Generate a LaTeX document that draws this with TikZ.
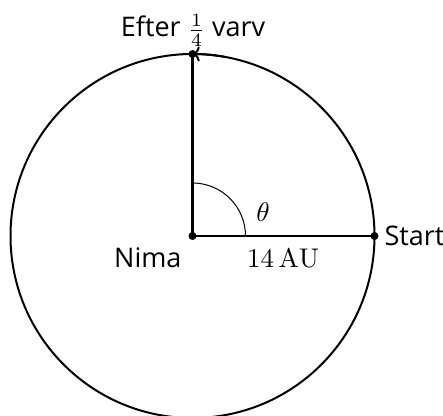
\documentclass[tikz,border=0pt]{standalone}
\usepackage{fontspec}
\newfontfamily\sansfam{Open Sans}
\usetikzlibrary{arrows.meta}
\begin{document}
\begin{tikzpicture}[x=1pt,y=1pt,
  dot/.style={circle,fill,inner sep=0pt,minimum size=8pt},
  lbl/.style={font=\sansfam\fontsize{10}{12}\selectfont,inner sep=0pt,scale=2.7,transform shape},
  mth/.style={font=\fontsize{10}{12}\selectfont,inner sep=0pt,scale=2.7,transform shape},
  rim/.style={line width=2pt},
  radius line/.style={line width=2.5pt},
  anglearc/.style={line width=1pt}]
\useasboundingbox (0,0) rectangle (443,415);
\coordinate (C) at (192.5,179);
\coordinate (S) at (374.5,179);
\coordinate (T) at (192.5,361);
\coordinate (A) at (245.5,179);
\draw[rim] (C) circle[radius=182];
\draw[radius line] (C) -- (S);
\draw[radius line] (C) -- (T);
\draw[anglearc] (A) arc[start angle=0,end angle=90,radius=53];
\draw[rim,-{To[scale=1.2]}] ([shift={(C)}]80:182) arc[start angle=80,end angle=90,radius=182];
\node[dot] (c) at (C) {};
\node[dot] (s) at (S) {};
\node[dot] (t) at (T) {};
\node[lbl,anchor=base east] (nima) at (182,148) {Nima};
\node[lbl,anchor=base west] (start) at (384,170) {Start};
\node[lbl,anchor=base] (efter) at (193,378) {Efter $\frac{1}{4}$ varv};
\node[mth,anchor=base] (au) at (283,148) {$14\,\mathrm{AU}$};
\node[mth] (theta) at (263,202.5) {$\theta$};
\end{tikzpicture}
\end{document}
